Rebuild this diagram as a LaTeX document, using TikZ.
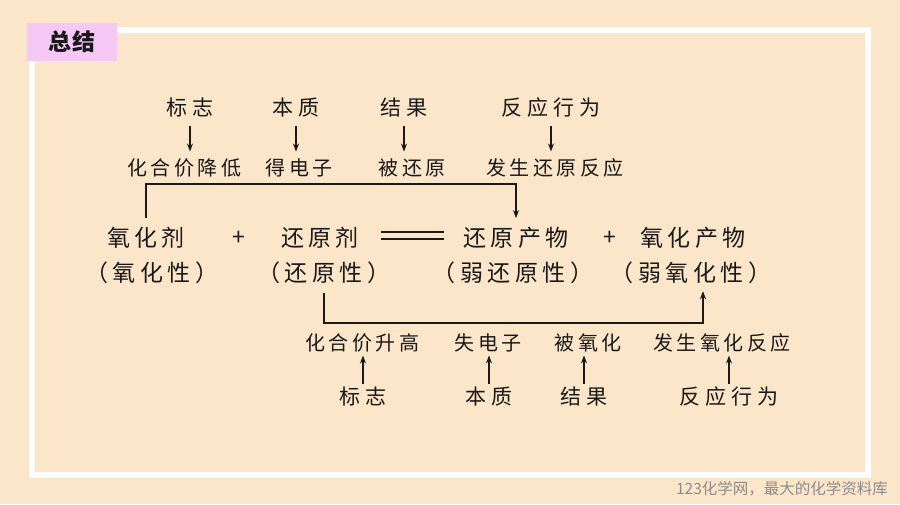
\documentclass[tikz,border=0pt]{standalone}
\usepackage{fontspec}
\newfontfamily\cjk{Noto Sans CJK SC}
\usetikzlibrary{arrows.meta}
\newlength\lsgap
\def\ls#1{\lsA#1\relax}
\def\lsA#1{\ifx\relax#1\else#1\expandafter\lsB\fi}
\def\lsB#1{\ifx\relax#1\else\kern\lsgap#1\expandafter\lsB\fi}
\definecolor{bg}{RGB}{252,230,201}
\definecolor{titlebg}{RGB}{246,200,246}
\definecolor{txt}{RGB}{25,25,25}
\definecolor{wm}{RGB}{140,140,140}
\tikzset{
  lab/.style={font=\cjk\fontsize{21}{25}\selectfont, text=txt, inner sep=0pt,
    execute at begin node={\setlength\lsgap{5pt}}},
  mid/.style={font=\cjk\fontsize{20}{24}\selectfont, text=txt, inner sep=0pt,
    execute at begin node={\setlength\lsgap{3.5pt}}},
  main/.style={font=\cjk\fontsize{23}{27}\selectfont, text=txt, inner sep=0pt,
    execute at begin node={\setlength\lsgap{4.5pt}}},
  arr/.style={draw=txt, line width=1.3pt, -{Stealth[length=8pt,width=6pt]}},
  conn/.style={draw=txt, line width=1.3pt},
}
\begin{document}
\begin{tikzpicture}[x=1pt,y=-1pt]
\fill[bg] (0,0) rectangle (900,504);
\useasboundingbox (0,0) rectangle (900,504);
\draw[white, line width=6pt] (32,30) rectangle (868,475);
\node[fill=titlebg, minimum width=90pt, minimum height=38pt, inner sep=0pt,
  font=\cjk\bfseries\fontsize{23}{26}\selectfont, text=txt] (title) at (72,42) {总\kern2pt 结};

% top labels
\node[lab] (t1) at (190,108) {\ls{标志}};
\node[lab] (t2) at (296,108) {\ls{本质}};
\node[lab] (t3) at (404,108) {\ls{结果}};
\node[lab] (t4) at (551,108) {\ls{反应行为}};
\node[mid] (u1) at (184,168) {\ls{化合价降低}};
\node[mid] (u2) at (299,168) {\ls{得电子}};
\node[mid] (u3) at (412,168) {\ls{被还原}};
\node[mid] (u4) at (555,168) {\ls{发生还原反应}};
\foreach \i in {1,...,4}{
  \draw[arr, shorten <=8pt, shorten >=7pt] (t\i.south) -- (t\i.south |- u\i.north);
}

% main row
\node[main] (m1) at (146,238) {\ls{氧化剂}};
\node[main] (p1) at (239,238) {+};
\node[main] (m2) at (320,238) {\ls{还原剂}};
\node[main] (m3) at (516,238) {\ls{还原产物}};
\node[main] (p2) at (610,238) {+};
\node[main] (m4) at (693,238) {\ls{氧化产物}};
\node[main] (n1) at (152,273) {\ls{（氧化性）}};
\node[main] (n2) at (324,273) {\ls{（还原性）}};
\node[main] (n3) at (513,273) {\ls{（弱还原性）}};
\node[main] (n4) at (691,273) {\ls{（弱氧化性）}};
\draw[conn] (381,232) -- (444,232);
\draw[conn] (381,239) -- (444,239);

% brackets
\coordinate (topbar) at (0,184);
\coordinate (botbar) at (0,323);
\draw[arr] ([yshift=9pt]m1.north) -- (m1.north |- topbar) -| ([yshift=9pt]m3.north);
\draw[arr] ([yshift=-9pt]n2.south) -- (n2.south |- botbar) -| ([xshift=12pt,yshift=-7pt]n4.south);

% bottom labels
\node[mid] (b1) at (362,343) {\ls{化合价升高}};
\node[mid] (b2) at (488,343) {\ls{失电子}};
\node[mid] (b3) at (588,343) {\ls{被氧化}};
\node[mid] (b4) at (722,343) {\ls{发生氧化反应}};
\node[lab] (c1) at (363,397) {\ls{标志}};
\node[lab] (c2) at (489,397) {\ls{本质}};
\node[lab] (c3) at (584,397) {\ls{结果}};
\node[lab] (c4) at (729,397) {\ls{反应行为}};
\foreach \i in {1,...,4}{
  \draw[arr, shorten <=3pt, shorten >=3pt] (c\i.north) -- (c\i.north |- b\i.south);
}

% watermark
\node[font=\cjk\fontsize{15.5}{18}\selectfont, text=wm, inner sep=0pt] (wmk) at (782,489) {123化学网，最大的化学资料库};
\end{tikzpicture}
\end{document}
